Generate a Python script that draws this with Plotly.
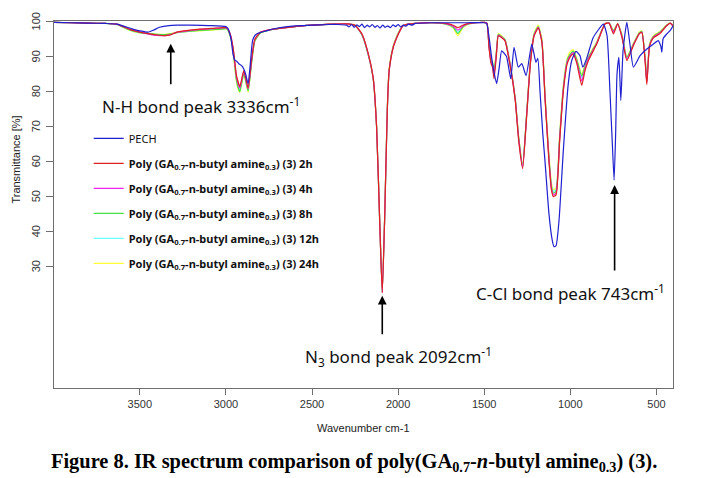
import plotly.graph_objects as go

# ---------------- data ----------------
wn_poly = [4000, 3900, 3800, 3700, 3633, 3558, 3500, 3442, 3400, 3355, 3320, 3285, 3220, 3151, 3080, 3020,
           2995, 2975, 2958, 2938, 2919, 2896, 2871, 2851, 2832, 2800, 2764, 2700, 2600, 2500, 2400, 2300,
           2251, 2210, 2174, 2145, 2125, 2106, 2092, 2077, 2063, 2052, 2028, 2007, 1989, 1970, 1900, 1800,
           1720, 1680, 1653, 1625, 1600, 1550, 1500, 1484, 1473, 1460, 1452, 1443, 1430, 1418, 1400, 1379,
           1350, 1320, 1300, 1277, 1255, 1232, 1210, 1186, 1165, 1147, 1124, 1110, 1099, 1083, 1062, 1041,
           1018, 1000, 983, 962, 934, 915, 895, 847, 798, 775, 750, 725, 700, 672, 634, 600,
           585, 565, 556, 540, 518, 480, 440, 420, 400]

t_2h = [99.8, 99.7, 99.6, 99.5, 99.3, 97.8, 97.0, 96.5, 96.2, 96.0, 96.3, 97.0, 97.5, 97.9, 98.1, 98.3,
        98.3, 96.5, 92.5, 84.5, 81.5, 86.0, 81.0, 89.0, 95.0, 97.0, 97.5, 98.0, 98.6, 99.0, 99.3, 99.4,
        99.0, 96.5, 91.0, 84.0, 70.0, 41.5, 22.5, 46.0, 74.5, 86.0, 92.7, 95.5, 97.4, 98.9, 99.5, 99.7,
        99.5, 99.0, 98.3, 99.0, 99.4, 99.7, 99.8, 99.5, 93.0, 88.0, 87.0, 83.7, 90.0, 96.0, 95.5, 94.5,
        87.5, 77.5, 66.0, 58.0, 72.0, 88.0, 96.0, 98.2, 94.0, 78.0, 60.0, 52.0, 50.0, 50.5, 66.0, 80.0,
        88.0, 90.0, 90.8, 88.0, 81.8, 86.0, 88.9, 93.6, 99.4, 99.6, 96.5, 99.4, 95.5, 88.9, 93.2, 96.5,
        96.9, 88.0, 82.0, 93.0, 95.4, 96.6, 98.9, 99.6, 98.5]

t_4h = [99.8, 99.7, 99.6, 99.5, 99.3, 97.8, 97.0, 96.4, 96.1, 96.0, 96.3, 97.0, 97.4, 97.8, 98.0, 98.2,
        98.2, 96.4, 92.3, 84.0, 81.0, 85.8, 80.8, 88.8, 94.8, 97.0, 97.5, 98.0, 98.6, 99.0, 99.3, 99.4,
        99.0, 96.4, 90.8, 84.0, 70.0, 41.5, 22.6, 46.0, 74.5, 86.0, 92.8, 95.6, 97.5, 98.9, 99.5, 99.7,
        99.4, 98.7, 97.6, 98.7, 99.3, 99.7, 99.8, 99.5, 93.2, 88.4, 87.6, 84.8, 90.6, 96.2, 95.6, 94.6,
        87.8, 77.8, 66.5, 58.5, 72.4, 88.2, 96.2, 98.4, 94.2, 78.4, 60.5, 52.5, 50.5, 51.0, 66.5, 80.5,
        88.5, 90.4, 91.2, 88.4, 83.0, 86.6, 89.4, 93.8, 99.4, 99.6, 97.0, 99.4, 95.7, 89.3, 93.4, 96.6,
        97.0, 88.5, 82.6, 93.2, 95.6, 96.8, 98.9, 99.6, 98.6]

t_8h = [99.8, 99.7, 99.6, 99.5, 99.2, 97.6, 96.9, 96.6, 96.4, 96.3, 96.5, 96.9, 97.2, 97.5, 97.7, 97.9,
        98.0, 96.0, 91.8, 83.0, 80.0, 85.2, 80.2, 88.2, 94.5, 96.8, 97.4, 98.0, 98.6, 99.0, 99.3, 99.4,
        99.0, 96.2, 90.6, 83.8, 70.0, 41.6, 22.8, 46.2, 74.8, 86.2, 93.0, 95.8, 97.6, 98.9, 99.5, 99.7,
        99.3, 98.4, 96.6, 98.4, 99.2, 99.7, 99.8, 99.5, 93.5, 89.0, 88.2, 86.0, 91.0, 96.4, 95.8, 94.8,
        88.0, 78.0, 67.0, 59.0, 72.8, 88.5, 96.4, 98.6, 94.5, 78.8, 61.0, 53.0, 51.0, 51.5, 67.0, 81.0,
        89.0, 90.8, 91.6, 89.0, 84.5, 87.2, 89.8, 94.0, 99.4, 99.6, 97.4, 99.4, 96.0, 89.8, 93.6, 96.8,
        97.2, 89.0, 83.2, 93.4, 95.8, 97.0, 99.0, 99.6, 98.8]

t_12h = [99.8, 99.7, 99.6, 99.5, 99.2, 97.6, 96.9, 96.5, 96.3, 96.2, 96.4, 96.9, 97.3, 97.6, 97.8, 98.0,
         98.0, 96.1, 92.0, 83.4, 80.4, 85.4, 80.4, 88.4, 94.6, 96.9, 97.4, 98.0, 98.6, 99.0, 99.3, 99.4,
         99.0, 96.3, 90.7, 83.9, 70.0, 41.6, 22.7, 46.1, 74.7, 86.1, 92.9, 95.7, 97.6, 98.9, 99.5, 99.7,
         99.3, 98.5, 97.0, 98.5, 99.2, 99.7, 99.8, 99.5, 93.4, 88.8, 88.0, 85.5, 90.8, 96.3, 95.7, 94.7,
         87.9, 77.9, 66.8, 58.8, 72.6, 88.4, 96.3, 98.5, 94.4, 78.6, 61.0, 53.2, 51.5, 52.0, 67.2, 81.0,
         88.8, 90.6, 91.4, 88.8, 84.0, 87.0, 89.6, 93.9, 99.4, 99.6, 97.2, 99.4, 95.9, 89.6, 93.5, 96.7,
         97.1, 88.8, 83.0, 93.3, 95.7, 96.9, 99.0, 99.6, 98.7]

t_24h = [99.8, 99.7, 99.6, 99.5, 99.2, 97.5, 96.8, 96.6, 96.4, 96.4, 96.6, 96.9, 97.2, 97.4, 97.6, 97.8,
         97.9, 95.8, 91.5, 82.6, 79.8, 85.0, 79.8, 88.0, 94.4, 96.8, 97.4, 98.0, 98.6, 99.0, 99.3, 99.4,
         99.1, 96.4, 90.8, 84.0, 70.2, 41.8, 23.0, 46.5, 75.2, 86.5, 93.2, 96.0, 97.8, 99.0, 99.5, 99.7,
         99.2, 98.2, 96.0, 98.2, 99.1, 99.7, 99.8, 99.5, 93.6, 89.2, 88.5, 86.5, 91.2, 96.6, 96.0, 95.0,
         88.2, 78.2, 67.2, 59.0, 73.0, 88.8, 96.8, 99.0, 95.0, 79.4, 61.8, 54.0, 52.0, 52.5, 68.0, 81.8,
         89.5, 91.5, 92.0, 89.4, 85.0, 87.6, 90.2, 94.2, 99.5, 99.7, 97.6, 99.5, 96.2, 90.0, 93.8, 97.0,
         97.4, 89.4, 83.6, 93.6, 96.0, 97.2, 99.1, 99.7, 98.9]

wn_pech = [4000, 3900, 3800, 3700, 3633, 3541, 3500, 3453, 3420, 3385, 3330, 3285, 3200, 3100, 3000, 2987,
           2970, 2958, 2948, 2938, 2925, 2910, 2896, 2885, 2871, 2860, 2845, 2832, 2822, 2764, 2700, 2600,
           2500, 2400, 2350, 2300, 2285, 2270, 2255, 2240, 2225, 2210, 2195, 2180, 2165, 2150, 2135, 2120,
           2105, 2090, 2075, 2060, 2045, 2030, 2015, 2000, 1985, 1970, 1955, 1940, 1920, 1900, 1800, 1700,
           1600, 1500, 1486, 1473, 1457, 1443, 1428, 1414, 1399, 1385, 1370, 1346, 1327, 1302, 1282, 1257,
           1224, 1200, 1189, 1176, 1160, 1147, 1124, 1105, 1095, 1083, 1066, 1041, 1012, 992, 967, 944,
           928, 905, 867, 808, 787, 770, 757, 746, 737, 729, 718, 707, 694, 672, 653, 634,
           595, 556, 518, 490, 475, 469, 461, 440, 420, 402]

t_pech = [99.8, 99.7, 99.6, 99.5, 99.3, 97.9, 97.4, 97.0, 97.6, 98.4, 98.9, 99.0, 99.0, 98.9, 98.6, 98.0,
          95.0, 90.5, 89.0, 88.7, 88.0, 87.5, 86.5, 85.0, 82.3, 87.0, 94.6, 96.0, 96.5, 97.4, 98.2, 98.8,
          99.0, 99.2, 99.2, 99.0, 98.5, 99.2, 98.4, 99.1, 98.6, 99.3, 98.3, 99.0, 98.5, 99.2, 98.4, 98.9,
          98.2, 99.0, 98.4, 98.8, 98.3, 99.1, 98.6, 99.2, 98.5, 99.0, 98.7, 99.3, 99.0, 99.5, 99.7, 99.7,
          99.7, 99.7, 99.5, 96.0, 89.8, 85.5, 82.3, 86.5, 91.7, 91.0, 90.0, 83.7, 92.7, 87.0, 88.0, 84.6,
          93.6, 88.4, 89.5, 80.0, 68.0, 60.0, 45.0, 37.5, 35.7, 36.0, 43.0, 63.0, 82.3, 88.9, 91.5, 90.3,
          87.0, 89.5, 95.5, 99.3, 96.0, 80.0, 66.0, 54.7, 68.0, 85.0, 89.8, 77.5, 91.7, 99.8, 93.2, 87.0,
          90.3, 92.2, 93.6, 94.6, 93.0, 91.3, 95.2, 96.5, 97.5, 98.9]

series_names = ["PECH",
                "Poly (GA<sub>0.7</sub>-n-butyl amine<sub>0.3</sub>) (3) 2h",
                "Poly (GA<sub>0.7</sub>-n-butyl amine<sub>0.3</sub>) (3) 4h",
                "Poly (GA<sub>0.7</sub>-n-butyl amine<sub>0.3</sub>) (3) 8h",
                "Poly (GA<sub>0.7</sub>-n-butyl amine<sub>0.3</sub>) (3) 12h",
                "Poly (GA<sub>0.7</sub>-n-butyl amine<sub>0.3</sub>) (3) 24h"]
series_colors = ["#2020d0", "#e02222", "#ee22ee", "#44e044", "#66ffff", "#ffff33"]

x_ticks = [3500, 3000, 2500, 2000, 1500, 1000, 500]
y_ticks = [30, 40, 50, 60, 70, 80, 90, 100]

peak_labels = ["N-H bond peak 3336cm<sup>-1</sup>",
               "N<sub>3</sub> bond peak 2092cm<sup>-1</sup>",
               "C-Cl bond peak 743cm<sup>-1</sup>"]
arrow_tips_wn = [3320, 2092, 743]
arrow_tips_t = [93.7, 21.7, 53.3]

# ---------------- figure ----------------
# the page body has an 8px margin, so the figure is drawn 8px right/down
OFF = 8
W, H = 701 - OFF, 478 - OFF
# plot-area edges in page pixels
L, R, T, B = 54.3, 673.3, 21.0, 388.3


def px(xp):
    return (xp - L) / (R - L)


def py(yp):
    return (B - yp) / (B - T)


fig = go.Figure()

poly_values = [t_2h, t_4h, t_8h, t_12h, t_24h]
draw_order = [4, 3, 2, 1, 0]
for i in draw_order:
    name = series_names[i + 1]
    fig.add_trace(go.Scatter(
        x=wn_poly, y=poly_values[i], mode="lines",
        name="<b>" + name + "</b>",
        line=dict(color=series_colors[i + 1], width=1.2, shape="spline", smoothing=0.5),
        legendrank=i + 2, legendgroup="g%d" % (i + 1),
    ))
fig.add_trace(go.Scatter(
    x=wn_pech, y=t_pech, mode="lines", name=series_names[0],
    line=dict(color=series_colors[0], width=1.2, shape="spline", smoothing=0.5),
    legendrank=1, legendgroup="g0",
))

tick_font = dict(family="Liberation Sans, Arial, sans-serif", size=11, color="#333333")
axis_common = dict(showgrid=False, zeroline=False, showline=True, mirror=True, automargin=False,
                   linecolor="#6e6e6e", linewidth=1, ticks="outside", tickcolor="#6e6e6e",
                   tickfont=tick_font)

fig.update_xaxes(range=[3998, 404], tickmode="array", tickvals=x_ticks, ticklen=6, **axis_common)
# y tick labels are written rotated (as in the reference) by annotations below
fig.update_yaxes(range=[-4.7, 100.2], tickmode="array", tickvals=y_ticks, ticklen=7,
                 showticklabels=False, **axis_common)

annotations = []
for v in y_ticks:
    annotations.append(dict(x=px(36), y=v, xref="paper", yref="y", text=str(v), showarrow=False,
                            xanchor="center", yanchor="middle", textangle=-90, font=tick_font))
for k in range(3):
    tail = [42, 40, 87][k]
    annotations.append(dict(x=arrow_tips_wn[k], y=arrow_tips_t[k], xref="x", yref="y", text="",
                            showarrow=True, ax=0, ay=tail, arrowhead=2, arrowsize=1.1,
                            arrowwidth=1.6, arrowcolor="#000000"))
label_pos = [(201, 106), (399, 357), (571, 293)]
for k in range(3):
    annotations.append(dict(x=px(label_pos[k][0]), y=py(label_pos[k][1]), xref="paper", yref="paper",
                            text=peak_labels[k], showarrow=False, xanchor="center", yanchor="middle",
                            font=dict(family="Noto Sans, sans-serif", size=17, color="#111111")))
annotations.append(dict(x=px(364), y=py(428), xref="paper", yref="paper", text="Wavenumber cm-1",
                        showarrow=False, xanchor="center", yanchor="middle",
                        font=dict(family="Liberation Sans, Arial, sans-serif", size=11, color="#222222")))
annotations.append(dict(x=px(16), y=py(160), xref="paper", yref="paper", text="Transmittance [%]",
                        showarrow=False, xanchor="center", yanchor="middle", textangle=-90,
                        font=dict(family="Liberation Sans, Arial, sans-serif", size=11, color="#222222")))
annotations.append(dict(x=px(354), y=py(463), xref="paper", yref="paper",
                        text="<b>Figure 8. IR spectrum comparison of poly(GA<sub>0.7</sub>-<i>n</i>-butyl amine<sub>0.3</sub>) (3).</b>",
                        showarrow=False, xanchor="center", yanchor="middle",
                        font=dict(family="Liberation Serif, Times New Roman, serif", size=20.4, color="#000000")))

fig.update_layout(
    width=W, height=H, autosize=False,
    margin=dict(l=L - OFF, r=W - (R - OFF), t=T - OFF, b=H - (B - OFF), pad=0),
    paper_bgcolor="white", plot_bgcolor="white",
    showlegend=True,
    legend=dict(x=px(89), y=py(124), xanchor="left", yanchor="top", bgcolor="rgba(0,0,0,0)",
                borderwidth=0, tracegroupgap=6, traceorder="grouped",
                font=dict(family="Noto Sans, sans-serif", size=11, color="#111111")),
    annotations=annotations,
)

fig.write_html("out.html")
